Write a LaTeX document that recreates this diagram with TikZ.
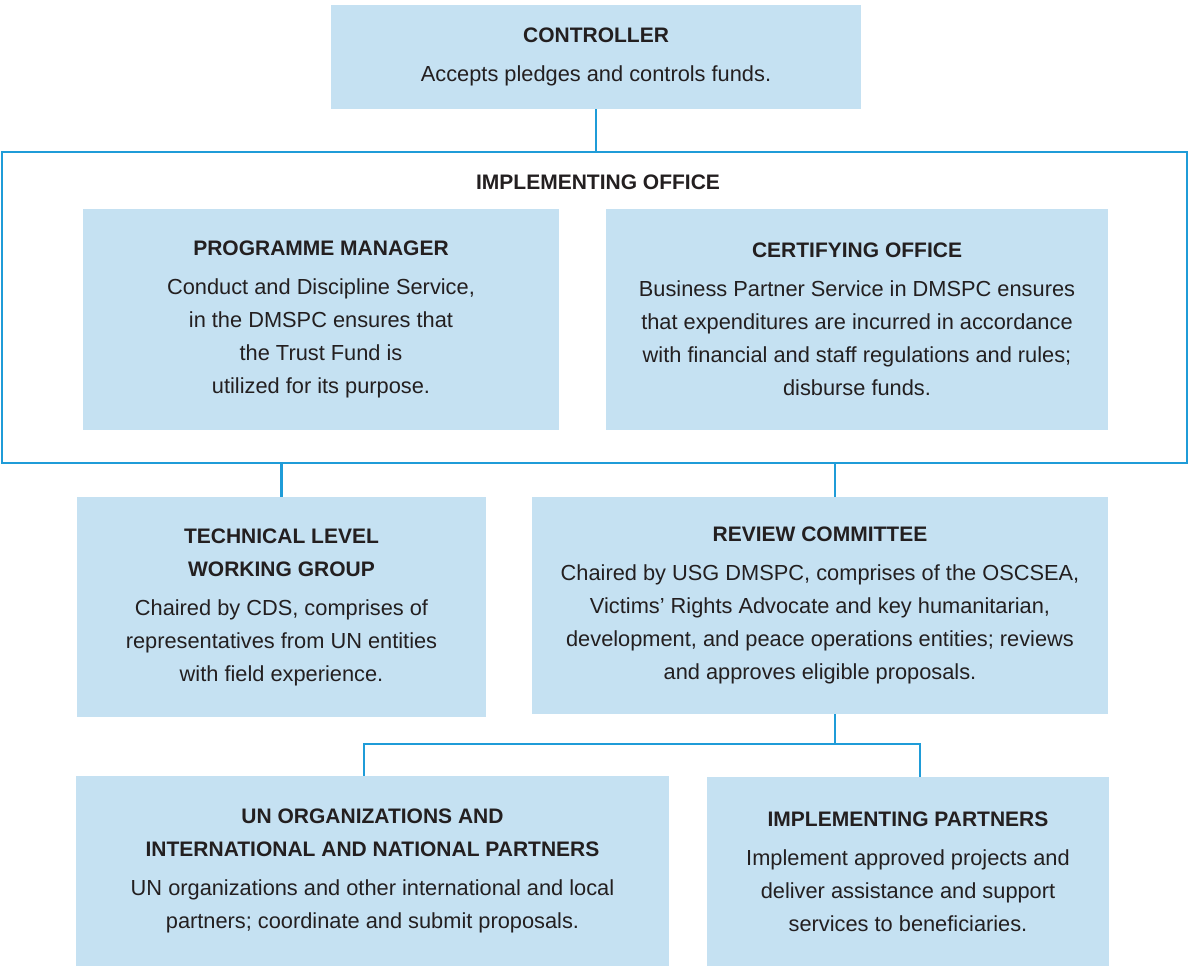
\documentclass[tikz,border=0pt]{standalone}
\usepackage{fontspec}
\setmainfont{Liberation Sans}
\usetikzlibrary{calc}
\usetikzlibrary{positioning}
\definecolor{boxfill}{HTML}{C5E1F2}
\definecolor{linkblue}{HTML}{1F9CD8}
\definecolor{txt}{HTML}{231F20}
\newcommand{\boxhead}[1]{{\fontsize{21}{33}\selectfont\bfseries #1}}
\newcommand{\boxtitle}[1]{\boxhead{#1}\\[6pt]}
\begin{document}
\begin{tikzpicture}[
		x=1pt, y=-1pt,
		every node/.style = {text=txt, font=\fontsize{21.8}{33}\selectfont},
		unit/.style = {rectangle, fill=boxfill, inner sep=0pt, align=center},
		frame/.style = {rectangle, draw=linkblue, line width=2.2pt, inner sep=0pt},
		link/.style = {draw=linkblue, line width=2.2pt}
		]
		\useasboundingbox (0,0) rectangle (1188,967);
		
		%Nodes
		\node[unit, minimum width=530, minimum height=104]	(ctrl)	at	(596, 57)
			{\boxtitle{CONTROLLER}Accepts pledges and controls funds.};
		\node[frame, minimum width=1185, minimum height=311]	(ioffice)	at	(594.5, 307.5)	{};
		\node	(iotitle)	at	(598, 182)	{\boxhead{IMPLEMENTING OFFICE}};
		\node[unit, minimum width=476, minimum height=221]	(pm)	at	(321, 319.5)
			{\boxtitle{PROGRAMME MANAGER}Conduct and Discipline Service,\\in the DMSPC ensures that\\the Trust Fund is\\utilized for its purpose.};
		\node[unit, minimum width=502, minimum height=221]	(cert)	at	(857, 319.5)
			{\boxtitle{CERTIFYING OFFICE}Business Partner Service in DMSPC ensures\\that expenditures are incurred in accordance\\with financial and staff regulations and rules;\\disburse funds.};
		\node[unit, minimum width=409, minimum height=220]	(tech)	at	(281.5, 607)
			{\boxhead{TECHNICAL LEVEL}\\\boxtitle{WORKING GROUP}Chaired by CDS, comprises of\\representatives from UN entities\\with field experience.};
		\node[unit, minimum width=576, minimum height=217]	(review)	at	(820, 605.5)
			{\boxtitle{REVIEW COMMITTEE}Chaired by USG DMSPC, comprises of the OSCSEA,\\Victims' Rights Advocate and key humanitarian,\\development, and peace operations entities; reviews\\and approves eligible proposals.};
		\node[unit, minimum width=593, minimum height=190]	(un)	at	(372.5, 871)
			{\boxhead{UN ORGANIZATIONS AND}\\\boxtitle{INTERNATIONAL AND NATIONAL PARTNERS}UN organizations and other international and local\\partners; coordinate and submit proposals.};
		\node[unit, minimum width=402, minimum height=189]	(ipart)	at	(908, 871.5)
			{\boxtitle{IMPLEMENTING PARTNERS}Implement approved projects and\\deliver assistance and support\\services to beneficiaries.};
		\coordinate	(split)	at	(835, 744);
		
		%Lines
		\draw[link]	(ctrl.south)	--	(ctrl.south |- ioffice.north);
		\draw[link]	(tech.north)	--	(tech.north |- ioffice.south);
		\draw[link]	($(review.north)+(15,0)$)	--	++(0,-34);
		\draw[link]	($(review.south)+(15,0)$)	--	(split);
		\draw[link]	(split)	-|	([xshift=-8.5pt]un.north);
		\draw[link]	(split)	-|	([xshift=12pt]ipart.north);
	\end{tikzpicture}
\end{document}
